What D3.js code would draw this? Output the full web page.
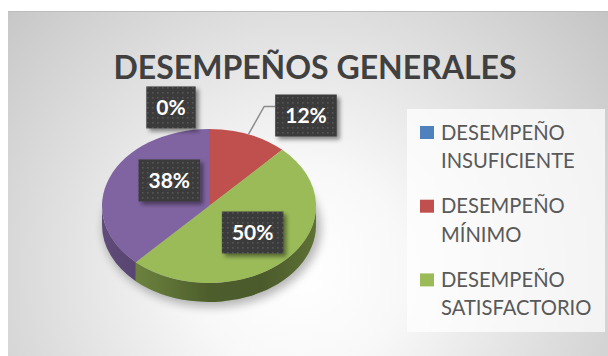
<!DOCTYPE html>
<html>
<head>
<meta charset="utf-8">
<script src="https://cdn.jsdelivr.net/npm/d3@7"></script>
<style>
  html, body { margin: 0; padding: 0; background: #ffffff; }
  svg { display: block; }
</style>
</head>
<body>
<svg id="chart" width="608" height="356"></svg>
<script>
// Chart data
const title = "DESEMPEÑOS GENERALES";
const categories = [
  ["DESEMPEÑO", "INSUFICIENTE"],
  ["DESEMPEÑO", "MÍNIMO"],
  ["DESEMPEÑO", "SATISFACTORIO"],
  ["DESEMPEÑO", "AVANZADO"]
];
const values = [0, 12, 50, 38];
const colors = ["#4f81bd", "#c0504d", "#9bbb59", "#8064a2"];

const W = 608, H = 356;
const svg = d3.select("#chart");
const defs = svg.append("defs");

// ---- background: radial grey gradient panel ----
const bg = defs.append("radialGradient").attr("id", "bgGrad")
  .attr("gradientUnits", "userSpaceOnUse")
  .attr("cx", 300).attr("cy", 270).attr("r", 420);
bg.append("stop").attr("offset", 0).attr("stop-color", "#ffffff");
bg.append("stop").attr("offset", 0.25).attr("stop-color", "#f8f8f8");
bg.append("stop").attr("offset", 1).attr("stop-color", "#c2c2c2");

svg.append("rect").attr("x", 8).attr("y", 11).attr("width", W - 8).attr("height", H - 11)
  .attr("fill", "url(#bgGrad)");
svg.append("line").attr("x1", 8).attr("x2", W).attr("y1", 11.5).attr("y2", 11.5)
  .attr("stroke", "#bcbcbc").attr("stroke-width", 1);

// ---- title ----
svg.append("text")
  .attr("x", 315).attr("y", 79)
  .attr("text-anchor", "middle")
  .attr("font-family", "Lato, 'Open Sans', sans-serif")
  .attr("font-weight", 700)
  .attr("font-size", 32)
  .attr("fill", "#404040")
  .text(title);

// ---- 3D pie ----
const cx = 209, cy = 206, rx = 107, ry = 77, depth = 19;
const pie = d3.pie().sort(null).startAngle(0).endAngle(2 * Math.PI).value(d => d);
const arcs = pie(values).map((a, i) => ({ ...a, color: colors[i], index: i }));

const pt = (a, f = 1, dy = 0) => [cx + rx * f * Math.sin(a), cy - ry * f * Math.cos(a) + dy];

// soft shadow beneath the pie
const shadowF = defs.append("filter").attr("id", "pieShadow")
  .attr("x", "-30%").attr("y", "-30%").attr("width", "160%").attr("height", "160%");
shadowF.append("feGaussianBlur").attr("stdDeviation", 5);
svg.append("ellipse")
  .attr("cx", cx + 3).attr("cy", cy + depth + 3)
  .attr("rx", rx + 2).attr("ry", ry + 2)
  .attr("fill", "#000").attr("opacity", 0.28)
  .attr("filter", "url(#pieShadow)");

// side shading across the pie width
const sideGrad = defs.append("linearGradient").attr("id", "sideShade")
  .attr("gradientUnits", "userSpaceOnUse")
  .attr("x1", cx - rx).attr("x2", cx + rx).attr("y1", 0).attr("y2", 0);
[[0, 0.0], [0.22, 0.12], [0.5, 0.34], [0.75, 0.36], [1, 0.2]].forEach(([o, op]) =>
  sideGrad.append("stop").attr("offset", o).attr("stop-color", "#000").attr("stop-opacity", op));

const sideG = svg.append("g");
arcs.forEach(a => {
  const s = Math.max(a.startAngle, Math.PI / 2);
  const e = Math.min(a.endAngle, 3 * Math.PI / 2);
  if (e <= s) return;
  const p0 = pt(s), p1 = pt(e), p2 = pt(e, 1, depth), p3 = pt(s, 1, depth);
  const large = (e - s) > Math.PI ? 1 : 0;
  const d = `M${p0}A${rx},${ry} 0 ${large} 1 ${p1}L${p2}A${rx},${ry} 0 ${large} 0 ${p3}Z`;
  const base = d3.color(a.color).darker(0.8);
  sideG.append("path").attr("d", d).attr("fill", base);
  sideG.append("path").attr("d", d).attr("fill", "url(#sideShade)");
});

// top faces
const topG = svg.append("g");
arcs.forEach(a => {
  if (a.endAngle - a.startAngle <= 0) return;
  const p0 = pt(a.startAngle), p1 = pt(a.endAngle);
  const large = (a.endAngle - a.startAngle) > Math.PI ? 1 : 0;
  topG.append("path")
    .attr("d", `M${cx},${cy}L${p0}A${rx},${ry} 0 ${large} 1 ${p1}Z`)
    .attr("fill", a.color);
});

// ---- data labels ----
const dots = defs.append("pattern").attr("id", "labelDots")
  .attr("patternUnits", "userSpaceOnUse").attr("width", 5).attr("height", 5);
dots.append("rect").attr("width", 5).attr("height", 5).attr("fill", "#3b3b3b");
dots.append("rect").attr("x", 2).attr("y", 2).attr("width", 1.6).attr("height", 1.6).attr("fill", "#555555");

const lblShadow = defs.append("filter").attr("id", "lblShadow")
  .attr("x", "-30%").attr("y", "-30%").attr("width", "170%").attr("height", "170%");
lblShadow.append("feDropShadow").attr("dx", 3).attr("dy", 3).attr("stdDeviation", 2.2)
  .attr("flood-color", "#000").attr("flood-opacity", 0.45);

// placement per slice: radial fraction from the centre plus a nudge
const labelPlacement = [
  { f: 1.28, dx: -38, dy: 0, leader: false },
  { f: 1.32, dx: 45,  dy: 4,  leader: true },
  { f: 0.56, dx: 0,   dy: -3, leader: false },
  { f: 0.55, dx: 15,  dy: -10, leader: false }
];

const fmt = d3.format(".0%");
const total = d3.sum(values);
const labelG = svg.append("g");
arcs.forEach((a, i) => {
  const mid = (a.startAngle + a.endAngle) / 2;
  const pl = labelPlacement[i];
  const [x0, y0] = pt(mid, pl.f);
  const lx = x0 + pl.dx, ly = y0 + pl.dy;
  const txt = fmt(a.data / total);
  const g = labelG.append("g");
  const t = g.append("text")
    .attr("x", lx).attr("y", ly + 7.5)
    .attr("text-anchor", "middle")
    .attr("font-family", "Lato, 'Open Sans', sans-serif")
    .attr("font-weight", 700)
    .attr("font-size", 21)
    .attr("fill", "#ffffff")
    .text(txt);
  const w = t.node().getComputedTextLength() + 20;
  const h = 42;
  if (pl.leader) {
    const edge = pt(mid, 1);
    labelG.insert("polyline", ":first-child")
      .attr("points", `${lx - w / 2},${ly - 9} ${lx - w / 2 - 11},${ly - 9} ${edge[0]},${edge[1]}`)
      .attr("fill", "none").attr("stroke", "#8c8c8c").attr("stroke-width", 1.5);
  }
  g.insert("rect", "text")
    .attr("x", lx - w / 2).attr("y", ly - h / 2)
    .attr("width", w).attr("height", h)
    .attr("fill", "url(#labelDots)")
    .attr("filter", "url(#lblShadow)");
});

// ---- legend ----
const lgX = 407, lgY = 109, lgW = 198, lgH = 223;
svg.append("rect").attr("x", lgX).attr("y", lgY).attr("width", lgW).attr("height", lgH)
  .attr("fill", "#ffffff").attr("opacity", 0.72);

// entries that do not fit inside the legend box are left out
const itemStep = 73.7, lineStep = 28.5;
const legendItems = categories
  .map((c, i) => ({ lines: c, color: colors[i], top: lgY + 17 + i * itemStep }))
  .filter(d => d.top + 13.5 + (d.lines.length - 1) * lineStep + 5 <= lgY + lgH);

const legend = svg.append("g");
legendItems.forEach(d => {
  legend.append("rect")
    .attr("x", 420).attr("y", d.top).attr("width", 14).attr("height", 13)
    .attr("fill", d.color);
  d.lines.forEach((line, j) => {
    legend.append("text")
      .attr("x", 441).attr("y", d.top + 13.5 + j * lineStep)
      .attr("font-family", "Lato, 'Open Sans', sans-serif")
      .attr("font-size", 20.2)
      .attr("fill", "#595959")
      .text(line);
  });
});
</script>
</body>
</html>
